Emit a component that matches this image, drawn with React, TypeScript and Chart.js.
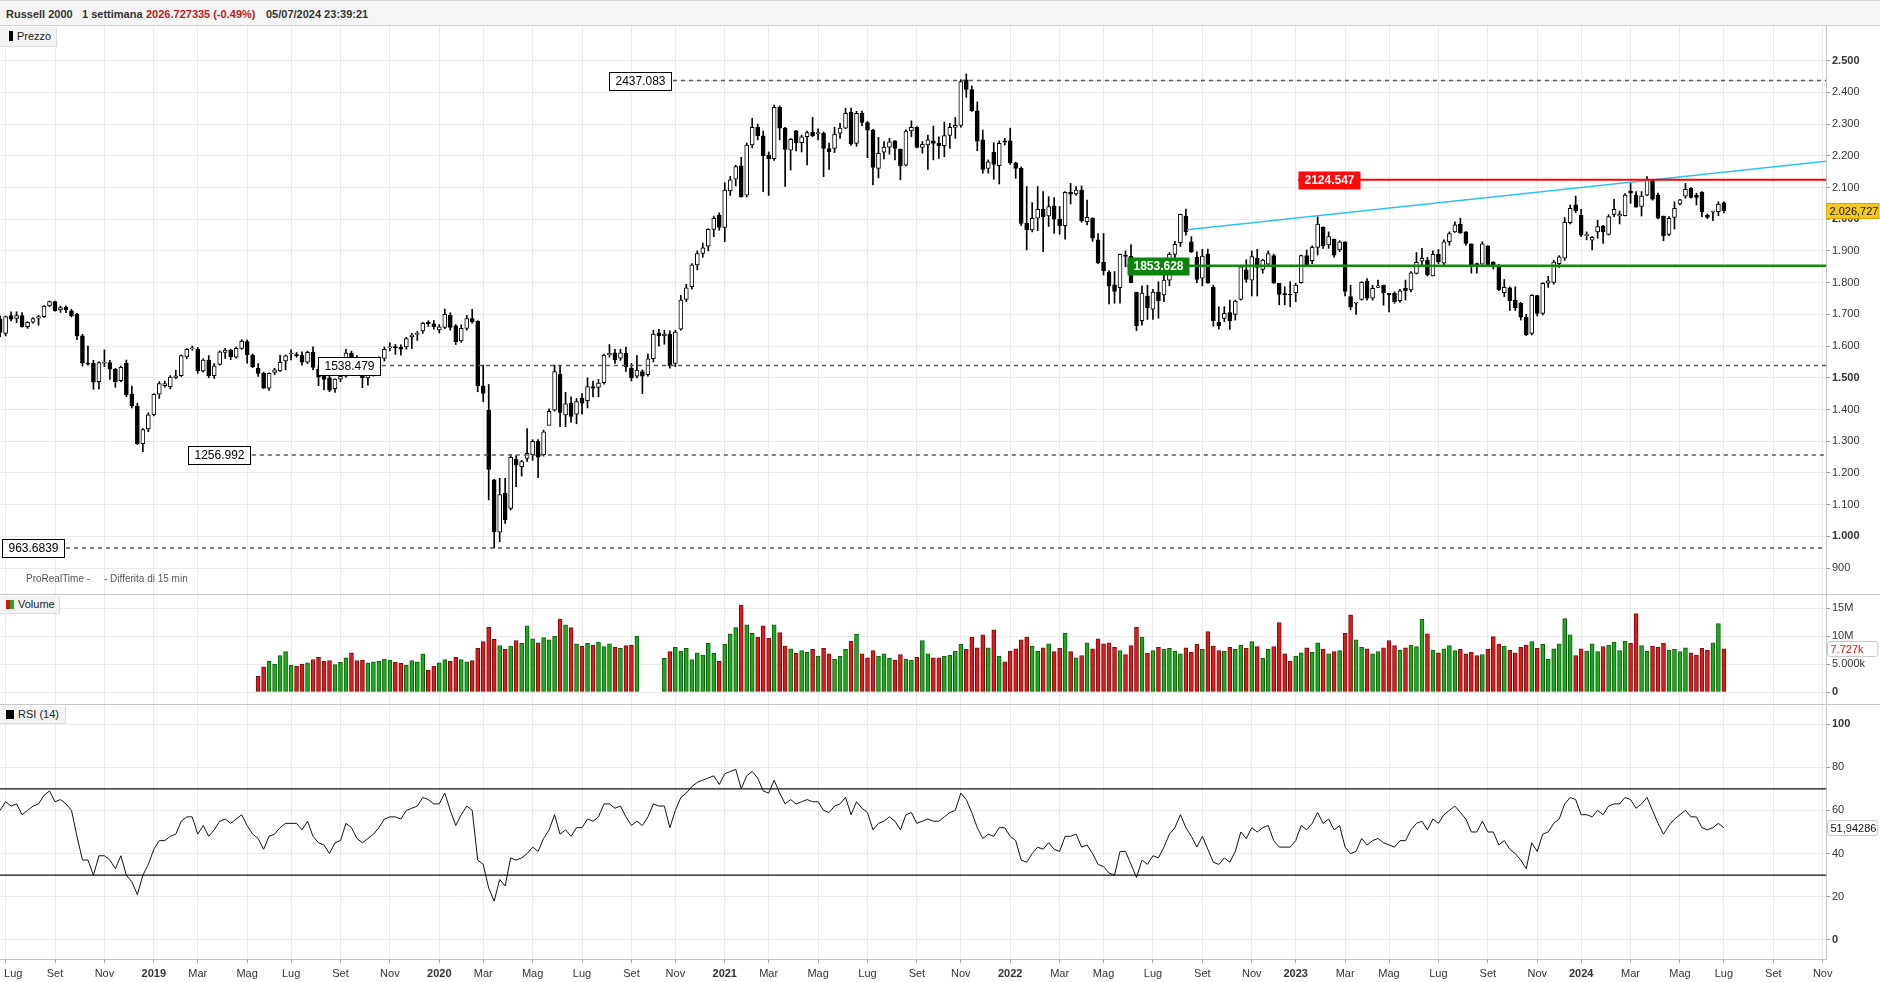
import React, { useEffect, useRef } from 'react';
import { Chart, registerables } from 'chart.js';
Chart.register(...registerables);

// ---------- DATA (weekly, week 0 = week of Mon 25 Jun 2018) ----------
const opens = [
1685,1640,1696,1687,1696,1661,1675,1688,1693,1727,1740,1714,1722,1711,1701,1632,1546,1546,1488,1546,
1548,1527,1491,1546,1448,1411,1292,1339,1383,1448,1475,1472,1500,1507,1566,1591,1590,1522,1556,1507,
1542,1580,1587,1565,1593,1614,1572,1530,1514,1467,1517,1522,1553,1575,1573,1572,1549,1580,1527,1505,
1500,1466,1496,1505,1578,1559,1523,1500,1512,1536,1561,1594,1597,1597,1597,1629,1637,1648,1675,1670,
1651,1659,1697,1664,1616,1656,1687,1679,1475,1398,1178,1013,1136,1088,1243,1220,1246,1258,1300,1258,
1350,1398,1512,1383,1420,1385,1435,1428,1472,1470,1485,1572,1579,1562,1577,1530,1505,1520,1510,1560,
1642,1632,1638,1545,1653,1747,1787,1856,1892,1915,1968,2013,1974,2089,2126,2168,2076,2234,2290,2263,
2202,2191,2353,2287,2218,2279,2241,2260,2274,2270,2271,2223,2223,2271,2287,2337,2239,2334,2305,2281,
2160,2211,2227,2247,2220,2170,2278,2290,2226,2234,2247,2239,2232,2264,2289,2296,2439,2409,2342,2250,
2160,2211,2169,2247,2247,2178,2160,1987,1966,2003,2031,2010,2042,2000,1980,2085,2080,2092,1992,2003,
1935,1864,1833,1793,1784,1887,1883,1770,1680,1758,1716,1770,1761,1808,1889,1926,2010,1929,1880,1814,
1889,1785,1675,1687,1706,1700,1747,1840,1808,1877,1842,1858,1885,1798,1764,1763,1768,1800,1885,1869,
1911,1974,1919,1937,1903,1929,1756,1735,1747,1805,1751,1785,1792,1766,1766,1743,1782,1777,1829,1868,
1871,1821,1889,1861,1929,1960,1984,1960,1922,1859,1858,1916,1864,1850,1768,1784,1745,1735,1691,1640,
1759,1703,1798,1801,1860,1877,1989,2045,2013,1948,1934,1960,1978,1952,2015,2010,2011,2089,2076,2040,
2076,2124,2076,2010,1952,2006,2048,2073,2097,2076,2085,2013,2022,2024,2052
];
const highs = [
1695,1695,1708,1708,1706,1677,1690,1697,1728,1742,1742,1726,1727,1716,1703,1637,1600,1555,1550,1588,
1555,1530,1537,1556,1474,1420,1340,1390,1450,1488,1490,1507,1524,1572,1592,1600,1596,1560,1570,1545,
1585,1593,1590,1597,1620,1620,1575,1545,1518,1516,1530,1572,1572,1588,1580,1582,1584,1598,1540,1517,
1515,1497,1512,1590,1584,1570,1535,1525,1552,1566,1597,1610,1605,1604,1628,1640,1646,1675,1680,1681,
1668,1717,1705,1668,1667,1697,1716,1680,1540,1479,1180,1183,1183,1258,1255,1240,1340,1305,1305,1335,
1402,1540,1536,1454,1440,1435,1450,1500,1490,1495,1575,1605,1590,1590,1597,1545,1570,1525,1575,1650,
1653,1650,1648,1650,1760,1795,1860,1900,1925,1970,2010,2020,2115,2135,2170,2195,2240,2318,2300,2278,
2212,2360,2357,2290,2255,2280,2265,2278,2321,2285,2275,2240,2290,2302,2350,2350,2340,2341,2308,2283,
2258,2245,2255,2248,2222,2282,2310,2292,2245,2265,2294,2260,2306,2302,2321,2440,2458,2420,2370,2281,
2187,2241,2247,2255,2287,2180,2165,2103,2052,2103,2087,2071,2068,2040,2087,2113,2103,2105,2060,2005,
1955,1955,1838,1835,1890,1900,1920,1770,1790,1792,1779,1803,1835,1895,1930,2016,2032,1945,1897,1905,
1906,1792,1724,1724,1745,1745,1855,1872,1900,1905,1874,1900,1890,1798,1787,1803,1798,1887,1903,1916,
2008,1976,1960,1937,1932,1929,1792,1737,1803,1813,1792,1808,1792,1766,1771,1779,1808,1835,1895,1908,
1880,1900,1905,1935,1960,1992,2003,1961,1922,1862,1929,1916,1866,1858,1810,1787,1787,1738,1700,1762,
1760,1800,1820,1870,1885,2005,2045,2073,2031,1960,1945,1997,1981,2014,2063,2026,2081,2113,2087,2087,
2134,2126,2082,2010,2008,2055,2063,2113,2100,2082,2087,2016,2026,2055,2055
];
const lows = [
1630,1632,1679,1674,1660,1656,1672,1666,1690,1724,1710,1706,1705,1692,1620,1537,1540,1464,1464,1535,
1495,1470,1488,1440,1405,1290,1267,1330,1380,1435,1470,1465,1497,1504,1560,1587,1514,1518,1500,1498,
1540,1561,1557,1562,1590,1546,1532,1504,1466,1460,1510,1520,1525,1556,1565,1540,1545,1525,1475,1462,
1456,1454,1488,1502,1548,1517,1469,1477,1505,1527,1553,1585,1574,1571,1590,1593,1618,1640,1662,1653,
1641,1655,1650,1605,1612,1650,1672,1456,1425,1115,964,983,1041,1083,1157,1190,1236,1240,1185,1253,
1358,1395,1346,1346,1360,1355,1385,1405,1440,1440,1480,1565,1545,1555,1520,1490,1500,1450,1505,1550,
1600,1606,1530,1535,1650,1740,1780,1840,1880,1900,1945,1965,1929,2075,2105,2069,2070,2225,2250,2087,
2075,2185,2250,2103,2155,2215,2212,2171,2260,2250,2134,2157,2210,2255,2285,2233,2230,2295,2194,2108,
2130,2190,2205,2187,2124,2168,2260,2225,2208,2157,2187,2192,2197,2223,2255,2290,2384,2340,2216,2145,
2145,2126,2111,2234,2173,2129,1980,1903,1960,1964,1898,1977,1955,1953,1937,2048,2075,1990,1982,1930,
1860,1824,1733,1735,1735,1850,1800,1649,1666,1684,1684,1688,1740,1790,1876,1914,1950,1895,1800,1790,
1798,1663,1653,1677,1653,1682,1745,1801,1758,1758,1830,1852,1798,1730,1730,1724,1740,1798,1855,1860,
1887,1908,1908,1880,1898,1758,1714,1700,1745,1745,1745,1784,1729,1708,1735,1738,1745,1771,1827,1850,
1821,1821,1860,1855,1918,1958,1955,1918,1830,1830,1858,1850,1843,1775,1756,1712,1712,1682,1633,1635,
1695,1698,1785,1795,1848,1870,1985,2020,1945,1935,1903,1940,1924,1950,2008,1985,2010,2050,2038,2010,
2074,2060,2001,1932,1948,1969,2045,2066,2066,2045,2008,2002,1995,2011,2020
];
const closes = [
1643,1693,1685,1696,1661,1675,1687,1693,1726,1740,1712,1721,1714,1696,1632,1546,1543,1486,1548,1546,
1527,1488,1533,1446,1411,1292,1337,1383,1448,1482,1482,1502,1506,1570,1590,1592,1522,1556,1507,1538,
1582,1587,1567,1593,1616,1572,1535,1514,1467,1514,1525,1549,1569,1575,1570,1549,1580,1533,1502,1495,
1461,1496,1505,1578,1559,1523,1500,1512,1536,1558,1590,1598,1595,1590,1624,1635,1638,1672,1670,1661,
1661,1700,1659,1614,1656,1687,1677,1475,1451,1211,1014,1132,1052,1249,1225,1236,1262,1300,1250,1330,
1394,1520,1391,1418,1378,1425,1420,1472,1467,1483,1572,1577,1556,1579,1535,1500,1524,1505,1560,1638,
1632,1638,1538,1644,1745,1784,1856,1892,1910,1968,2003,1974,2092,2124,2166,2071,2234,2290,2263,2200,
2191,2353,2287,2220,2252,2241,2260,2273,2263,2271,2223,2213,2268,2287,2334,2237,2334,2305,2281,2163,
2208,2227,2244,2223,2168,2278,2290,2226,2236,2250,2239,2232,2264,2290,2296,2434,2409,2342,2246,2157,
2181,2173,2239,2243,2178,2160,1987,1966,2003,2031,2008,2040,2000,1980,2085,2079,2092,1995,2006,1940,
1863,1838,1790,1772,1889,1883,1800,1664,1767,1720,1770,1743,1808,1889,1921,2015,1960,1898,1810,1884,
1798,1680,1664,1703,1680,1742,1850,1810,1882,1848,1871,1892,1798,1763,1762,1761,1792,1885,1856,1911,
1985,1916,1945,1887,1929,1772,1724,1735,1801,1751,1782,1790,1768,1761,1740,1774,1775,1831,1864,1877,
1824,1889,1865,1929,1955,1982,1957,1924,1856,1857,1922,1850,1850,1777,1785,1743,1720,1691,1636,1760,
1703,1798,1806,1865,1881,1990,2034,2027,1950,1950,1943,1977,1961,2008,2031,2016,2076,2082,2038,2073,
2124,2063,2003,1947,2003,2034,2061,2094,2069,2069,2024,2006,2022,2048,2026.727
];
// volume in millions (null = no data)
const volumes = [
null,null,null,null,null,null,null,null,null,null,null,null,null,null,null,null,null,null,null,null,
null,null,null,null,null,null,null,null,null,null,null,null,null,null,null,null,null,null,null,null,
null,null,null,null,null,null,null,
2.8,4.5,5.5,5.0,6.5,7.2,4.8,4.6,5.0,5.2,
5.8,6.2,5.5,5.6,4.9,5.3,6.1,7.0,5.6,5.7,
5.2,5.4,5.5,5.9,5.7,5.3,5.1,4.8,5.6,5.4,
6.8,3.9,4.6,5.2,5.8,5.5,6.2,5.8,5.4,5.6,
7.8,9.0,11.6,9.4,8.3,7.6,8.2,9.2,8.7,11.8,
9.5,8.8,9.7,9.3,10.0,13.0,12.0,11.5,8.6,8.2,
8.7,8.4,8.9,8.1,8.6,8.0,7.8,8.3,8.4,10.0,
null,null,null,null,
6.0,7.2,8.0,7.3,7.8,5.8,7.0,6.6,8.7,6.9,
5.5,8.5,10.4,11.5,15.5,12.0,10.5,9.8,11.8,9.6,
12.0,10.6,8.2,7.7,6.9,7.4,7.1,7.6,6.4,7.8,
6.8,5.9,6.4,7.6,9.1,10.3,6.8,6.1,7.4,6.4,
6.8,6.0,5.7,6.7,5.9,5.7,6.2,9.2,6.8,6.1,
6.1,6.4,6.6,7.3,8.5,7.6,9.8,7.9,10.2,7.9,
11.1,6.4,5.4,7.3,7.7,9.3,9.8,8.2,7.3,7.9,
8.6,7.2,7.8,10.5,7.2,6.1,6.5,8.8,7.7,9.5,
8.6,8.8,8.0,7.4,6.7,8.3,11.6,9.8,6.9,7.4,
8.0,7.6,7.8,7.3,6.8,7.9,7.1,8.5,7.6,10.8,
8.2,7.4,7.3,8.0,7.6,8.4,7.8,9.0,8.1,6.0,
7.6,8.1,12.4,6.8,5.5,6.4,7.0,7.9,7.1,8.8,
7.6,6.8,7.2,7.4,10.5,13.8,9.3,8.0,7.7,6.8,
7.2,7.9,9.2,8.3,7.5,7.9,8.4,8.1,13.0,10.4,
7.5,7.0,7.7,8.3,7.4,7.6,6.8,7.1,6.5,6.7,
7.6,9.9,8.5,8.2,7.5,7.0,8.0,8.4,9.0,7.8,
8.5,5.9,7.7,8.6,13.1,10.2,6.5,7.7,7.3,8.6,
7.2,8.1,8.4,8.9,7.4,9.1,8.7,14.0,8.3,7.3,
8.2,8.0,8.7,7.5,7.6,7.2,7.9,7.0,6.6,7.8,
7.5,8.8,12.2,7.727
];
const rsiValues = [
60,64,62,63,58,60,62,63,67,69, 64,65,63,60,48,37,37,30,39,39, 37,33,39,30,27,21,30,35,42,46,
46,48,49,55,57,57,49,53,48,51, 55,56,54,56,58,53,49,47,42,48, 49,52,54,54,54,51,55,48,45,44,
40,45,46,54,52,47,45,47,49,52, 56,57,57,56,60,61,62,66,65,63, 63,68,60,53,58,62,60,37,35,24,
18,28,25,38,37,38,40,43,41,47, 51,58,49,51,48,52,52,56,55,57, 63,63,61,62,57,53,55,53,57,63,
62,62,52,60,66,68,71,73,74,75, 76,72,77,78,79,70,76,78,75,69, 68,74,68,63,65,63,64,65,64,64,
60,59,62,63,66,58,64,61,59,51, 54,55,57,55,51,58,59,54,55,56, 55,55,57,59,60,68,65,59,52,47,
49,48,52,52,48,46,37,36,40,43, 42,45,42,41,48,48,49,43,44,40, 35,34,31,30,41,41,35,29,37,35,
39,38,43,49,52,58,52,48,43,48, 42,36,35,38,36,41,50,47,52,50, 52,53,46,43,43,43,46,53,51,54,
59,54,56,51,53,43,40,41,47,44, 46,47,45,44,43,46,46,51,54,55, 51,56,54,58,60,62,59,56,50,50,
55,50,50,44,46,42,40,37,33,45, 41,49,50,54,56,63,66,65,58,58, 57,60,58,62,63,63,66,65,61,63,
66,60,54,49,53,56,58,60,57,57, 52,51,52,54,51.94286
];
const priceTicks = [900,1000,1100,1200,1300,1400,1500,1600,1700,1800,1900,2000,2100,2200,2300,2400,2500];
const volumeTicks = [0,5,10,15];
const volumeTickLabels = ['0','5.000k','10M','15M'];
const rsiTicks = [0,20,40,60,80,100];
const rsiBands = [70,30];
const xTickLabels = ['Lug','Set','Nov','2019','Mar','Mag','Lug','Set','Nov','2020','Mar','Mag','Lug','Set','Nov','2021','Mar','Mag','Lug','Set','Nov','2022','Mar','Mag','Lug','Set','Nov','2023','Mar','Mag','Lug','Set','Nov','2024','Mar','Mag','Lug','Set','Nov'];
// horizontal level annotations: value, label-box anchor (week index)
const levelValues = [2437.083, 1538.479, 1256.992, 963.6839];
const levelAnchors = [110.9, 57.9, 34.2, 0.35];
const resistance = 2124.547; const resistanceAnchor = 236.4;
const support = 1853.628; const supportAnchor = 205.3;
const trendStart = { x: 216.2, y: 1967 };
const trendEnd = { x: 332.6, y: 2183 };

// ---------- LAYOUT ----------
const FONT = "'Liberation Sans', Arial, Helvetica, sans-serif";
const W = 1880;
const AXIS_W = 54;
const X_MIN = -0.02, X_MAX = 332.6;
const WEEK0 = Date.UTC(2018, 5, 25);
const xTickValues = xTickLabels.map((_, k) => {
  const mm = 6 + 2 * k;
  const first = Date.UTC(2018 + Math.floor(mm / 12), mm % 12, 1);
  const dow = new Date(first).getUTCDay();
  const add = (8 - dow) % 7;
  return (first + add * 864e5 - WEEK0) / (7 * 864e5);
});
const GRID = '#ebebeb';

function fmtThousands(v: number) {
  const s = String(Math.round(v));
  return s.length > 3 ? s.slice(0, -3) + '.' + s.slice(-3) : s;
}
function fmtPrice(v: number) {
  const [i, d] = v.toFixed(3).split('.');
  return fmtThousands(Number(i)) + ',' + d;
}

function xScale(showLabels: boolean): any {
  return {
    type: 'linear', min: X_MIN, max: X_MAX, offset: false,
    afterBuildTicks: (s: any) => { s.ticks = xTickValues.map((v) => ({ value: v })); },
    afterFit: (s: any) => { s.height = showLabels ? 23 : 0; s.paddingLeft = 0; s.paddingRight = 0; s.paddingTop = 0; s.paddingBottom = 0; },
    grid: { color: GRID, offset: false, drawTicks: showLabels, tickLength: 4, tickColor: '#aaa' },
    border: { display: showLabels, color: '#c4c4c4' },
    ticks: {
      display: showLabels, autoSkip: false, maxRotation: 0, minRotation: 0, padding: 4, color: '#333',
      font: (ctx: any) => ({ family: FONT, size: 11, weight: /^\d{4}$/.test(xTickLabels[ctx.index] || '') ? 'bold' : 'normal' }),
      // the first label sits at the left edge: pad it so it stays fully inside the canvas
      callback: (_v: any, idx: number) => (idx === 0 ? '     ' + xTickLabels[idx] : xTickLabels[idx]),
    },
  };
}
function yScale(min: number, max: number, ticks: number[], label: (v: number) => string, bold: (v: number) => boolean): any {
  return {
    position: 'right', min, max,
    afterBuildTicks: (s: any) => { s.ticks = ticks.map((v) => ({ value: v })); },
    afterFit: (s: any) => { s.width = AXIS_W; s.paddingTop = 0; s.paddingBottom = 0; s.paddingLeft = 0; s.paddingRight = 0; },
    grid: { color: GRID, drawTicks: true, tickLength: 4, tickColor: '#999' },
    border: { display: true, color: '#c4c4c4' },
    ticks: {
      padding: 2, color: '#333', autoSkip: false,
      font: (ctx: any) => ({ family: FONT, size: 11, weight: bold(ctx.tick ? ctx.tick.value : -1) ? 'bold' : 'normal' }),
      callback: (v: any) => label(Number(v)),
    },
  };
}
const baseOptions = {
  responsive: false, animation: false as const, devicePixelRatio: 1, events: [] as any[],
  layout: { padding: 0, autoPadding: false },
  plugins: { legend: { display: false }, tooltip: { enabled: false }, title: { display: false } },
};

function roundRect(ctx: CanvasRenderingContext2D, x: number, y: number, w: number, h: number, r: number) {
  ctx.beginPath();
  ctx.moveTo(x + r, y); ctx.lineTo(x + w - r, y); ctx.quadraticCurveTo(x + w, y, x + w, y + r);
  ctx.lineTo(x + w, y + h - r); ctx.quadraticCurveTo(x + w, y + h, x + w - r, y + h);
  ctx.lineTo(x + r, y + h); ctx.quadraticCurveTo(x, y + h, x, y + h - r);
  ctx.lineTo(x, y + r); ctx.quadraticCurveTo(x, y, x + r, y); ctx.closePath();
}

const priceBoxes = [
  ...levelValues.map((v, k) => ({ value: v, idx: levelAnchors[k], bg: '#fff', border: '#000', color: '#000', bold: false })),
  { value: resistance, idx: resistanceAnchor, bg: '#ff0a0a', border: '', color: '#fff', bold: true },
  { value: support, idx: supportAnchor, bg: '#0a840a', border: '', color: '#fff', bold: true },
];

const pricePlugin = {
  id: 'priceAnn',
  afterDatasetsDraw(chart: any) {
    const { ctx } = chart; const x = chart.scales.x; const y = chart.scales.y;
    ctx.save();
    for (const b of priceBoxes) {
      ctx.font = (b.bold ? 'bold ' : '') + '12px ' + FONT;
      const text = String(b.value);
      const tw = ctx.measureText(text).width;
      const w = Math.round(tw + 12); const h = 18;
      const left = Math.round(x.getPixelForValue(b.idx)) + 0.5;
      const top = Math.round(y.getPixelForValue(b.value) - h / 2) + 0.5;
      ctx.fillStyle = b.bg; ctx.fillRect(left, top, w, h);
      if (b.border) { ctx.strokeStyle = b.border; ctx.lineWidth = 1; ctx.strokeRect(left, top, w, h); }
      ctx.fillStyle = b.color; ctx.textAlign = 'center'; ctx.textBaseline = 'middle';
      ctx.fillText(text, left + w / 2, top + h / 2 + 0.5);
    }
    ctx.restore();
  },
  afterDraw(chart: any) {
    const { ctx } = chart; const y = chart.scales.y;
    const last = closes[closes.length - 1];
    const py = Math.round(y.getPixelForValue(last));
    const left = chart.chartArea.right + 0.5;
    ctx.save();
    ctx.fillStyle = '#f7c81e'; ctx.strokeStyle = '#d9a300'; ctx.lineWidth = 1;
    ctx.fillRect(left, py - 7.5, W - left - 1, 15); ctx.strokeRect(left, py - 7.5, W - left - 1, 15);
    ctx.fillStyle = '#111'; ctx.font = '11px ' + FONT; ctx.textAlign = 'left'; ctx.textBaseline = 'middle';
    ctx.fillText(fmtPrice(last), left + 3, py + 0.5);
    ctx.restore();
  },
};

function valueTagPlugin(id: string, value: number, text: string, color: string) {
  return {
    id,
    afterDraw(chart: any) {
      const { ctx } = chart; const y = chart.scales.y;
      const py = Math.round(y.getPixelForValue(value));
      const left = chart.chartArea.right + 1.5;
      ctx.save();
      roundRect(ctx, left, py - 7.5, W - left - 2, 15, 3);
      ctx.fillStyle = '#fff'; ctx.fill(); ctx.strokeStyle = '#c8c8c8'; ctx.lineWidth = 1; ctx.stroke();
      ctx.fillStyle = color; ctx.font = '11px ' + FONT; ctx.textAlign = 'left'; ctx.textBaseline = 'middle';
      ctx.fillText(text, left + 3, py + 0.5);
      ctx.restore();
    },
  };
}

export default function App() {
  const priceRef = useRef<HTMLCanvasElement>(null);
  const volRef = useRef<HTMLCanvasElement>(null);
  const rsiRef = useRef<HTMLCanvasElement>(null);

  useEffect(() => {
    const charts: Chart[] = [];
    const n = closes.length;
    const idxs = closes.map((_, i) => i);

    // ---- price ----
    const wickData = idxs.map((i) => ({ x: i, y: [lows[i], highs[i]] }));
    const bodyData = idxs.map((i) => ({ x: i, y: [Math.min(opens[i], closes[i]), Math.max(opens[i], closes[i])] }));
    const bodyColors = idxs.map((i) => (closes[i] >= opens[i] ? '#ffffff' : '#000000'));
    const levelLines = levelValues.map((v, k) => ({
      type: 'line', data: [{ x: levelAnchors[k], y: v }, { x: X_MAX, y: v }],
      borderColor: '#555', borderWidth: 1.5, borderDash: [4, 4], pointRadius: 0, order: 1,
    }));
    charts.push(new Chart(priceRef.current as HTMLCanvasElement, {
      type: 'bar',
      data: {
        datasets: [
          { type: 'bar', data: wickData as any, backgroundColor: '#000', borderWidth: 0, barThickness: 1, grouped: false, order: 6 } as any,
          { type: 'bar', data: bodyData as any, backgroundColor: bodyColors, borderColor: '#000', borderWidth: 1, borderSkipped: false, barThickness: 4, minBarLength: 1, grouped: false, order: 5 } as any,
          ...levelLines,
          { type: 'line', data: [{ x: resistanceAnchor, y: resistance }, { x: X_MAX, y: resistance }], borderColor: '#ff0000', borderWidth: 2, pointRadius: 0, order: 2 },
          { type: 'line', data: [{ x: supportAnchor, y: support }, { x: X_MAX, y: support }], borderColor: '#0f8a0f', borderWidth: 2.5, pointRadius: 0, order: 2 },
          { type: 'line', data: [trendStart, trendEnd], borderColor: '#2cc2f2', borderWidth: 1.5, pointRadius: 0, order: 2 },
        ] as any,
      },
      options: {
        ...baseOptions,
        scales: {
          x: xScale(false),
          y: yScale(818.4, 2609.1, priceTicks, fmtThousands, (v) => v % 500 === 0),
        },
      } as any,
      plugins: [pricePlugin as any],
    }));

    // ---- volume ----
    const volIdx = idxs.filter((i) => volumes[i] !== null && volumes[i] !== undefined);
    charts.push(new Chart(volRef.current as HTMLCanvasElement, {
      type: 'bar',
      data: {
        datasets: [{
          data: volIdx.map((i) => ({ x: i, y: volumes[i] as number })) as any,
          backgroundColor: volIdx.map((i) => (closes[i] >= opens[i] ? '#1ea91e' : '#d91c1c')),
          borderColor: volIdx.map((i) => (closes[i] >= opens[i] ? '#0c5e0c' : '#7d0b0b')),
          borderWidth: 1, borderSkipped: false, barThickness: 4, grouped: false,
        } as any],
      },
      options: {
        ...baseOptions,
        scales: {
          x: xScale(false),
          y: yScale(-2.14, 17.5, volumeTicks, (v) => volumeTickLabels[volumeTicks.indexOf(v)] || '', (v) => v === 0),
        },
      } as any,
      plugins: [valueTagPlugin('volTag', volumes[n - 1] as number, (volumes[n - 1] as number).toFixed(3) + 'k', '#e01010') as any],
    }));

    // ---- RSI ----
    charts.push(new Chart(rsiRef.current as HTMLCanvasElement, {
      type: 'line',
      data: {
        datasets: [
          { data: rsiValues.map((v, i) => ({ x: i, y: v })), borderColor: '#111', borderWidth: 1, pointRadius: 0, tension: 0 },
          ...rsiBands.map((b) => ({ data: [{ x: X_MIN, y: b }, { x: X_MAX, y: b }], borderColor: '#111', borderWidth: 1.3, pointRadius: 0 })),
        ] as any,
      },
      options: {
        ...baseOptions,
        scales: {
          x: xScale(true),
          y: yScale(-8.8, 109.26, rsiTicks, (v) => String(v), (v) => v === 0 || v === 100),
        },
      } as any,
      plugins: [valueTagPlugin('rsiTag', rsiValues[n - 1], rsiValues[n - 1].toFixed(5).replace('.', ','), '#111') as any],
    }));

    return () => charts.forEach((c) => c.destroy());
  }, []);

  const panelLabel = (top: number, width: number, icon: React.ReactNode, text: string) => (
    <div style={{ position: 'absolute', left: 0, top, width, height: 18, background: '#f4f4f4', borderRight: '1px solid #dcdcdc', borderBottom: '1px solid #dcdcdc', boxSizing: 'border-box', fontSize: 11, color: '#222', lineHeight: '17px' }}>
      {icon}
      <span style={{ position: 'absolute', left: 18, top: 0 }}>{text}</span>
    </div>
  );

  return (
    <div style={{ position: 'absolute', left: 0, top: 0, width: W, height: 982, background: '#fff', overflow: 'hidden', fontFamily: FONT }}>
      <div style={{ position: 'absolute', left: 0, top: 0, width: W, height: 26, background: '#f6f6f6', borderTop: '1px solid #d6d6d6', borderBottom: '1px solid #cfcfcf', boxSizing: 'border-box', fontSize: 11, fontWeight: 'bold', color: '#333', lineHeight: '26px' }}>
        <span style={{ position: 'absolute', left: 6, top: 0 }}>Russell 2000</span>
        <span style={{ position: 'absolute', left: 82, top: 0 }}>1 settimana</span>
        <span style={{ position: 'absolute', left: 146, top: 0, color: '#c0141c' }}>2026.727335 (-0.49%)</span>
        <span style={{ position: 'absolute', left: 266, top: 0 }}>05/07/2024 23:39:21</span>
      </div>
      <canvas ref={priceRef} width={W} height={568} style={{ position: 'absolute', left: 0, top: 26, width: W, height: 568 }} />
      <canvas ref={volRef} width={W} height={110} style={{ position: 'absolute', left: 0, top: 594, width: W, height: 110 }} />
      <canvas ref={rsiRef} width={W} height={278} style={{ position: 'absolute', left: 0, top: 704, width: W, height: 278 }} />
      <div style={{ position: 'absolute', left: 0, top: 594, width: W, height: 1, background: '#c8c8c8' }} />
      <div style={{ position: 'absolute', left: 0, top: 704, width: W, height: 1, background: '#c8c8c8' }} />
      <div style={{ position: 'absolute', left: 0, top: 27, width: 57, height: 20, background: '#f4f4f4', borderRight: '1px solid #dcdcdc', borderBottom: '1px solid #dcdcdc', boxSizing: 'border-box', fontSize: 11, color: '#222', lineHeight: '19px' }}>
        <div style={{ position: 'absolute', left: 9, top: 4, width: 4, height: 10, background: '#000' }} />
        <span style={{ position: 'absolute', left: 17, top: 0 }}>Prezzo</span>
      </div>
      {panelLabel(596, 60, (
        <div style={{ position: 'absolute', left: 6, top: 4, width: 8, height: 9 }}>
          <div style={{ position: 'absolute', left: 0, top: 0, width: 4, height: 9, background: '#e01010' }} />
          <div style={{ position: 'absolute', left: 4, top: 0, width: 4, height: 9, background: '#1ea91e' }} />
        </div>
      ), 'Volume')}
      {panelLabel(706, 66, (
        <div style={{ position: 'absolute', left: 6, top: 4, width: 8, height: 9, background: '#000' }} />
      ), 'RSI (14)')}
      <div style={{ position: 'absolute', left: 26, top: 573, fontSize: 10, color: '#555' }}>ProRealTime -</div>
      <div style={{ position: 'absolute', left: 104, top: 573, fontSize: 10, color: '#555' }}>- Differita di 15 min</div>
    </div>
  );
}
